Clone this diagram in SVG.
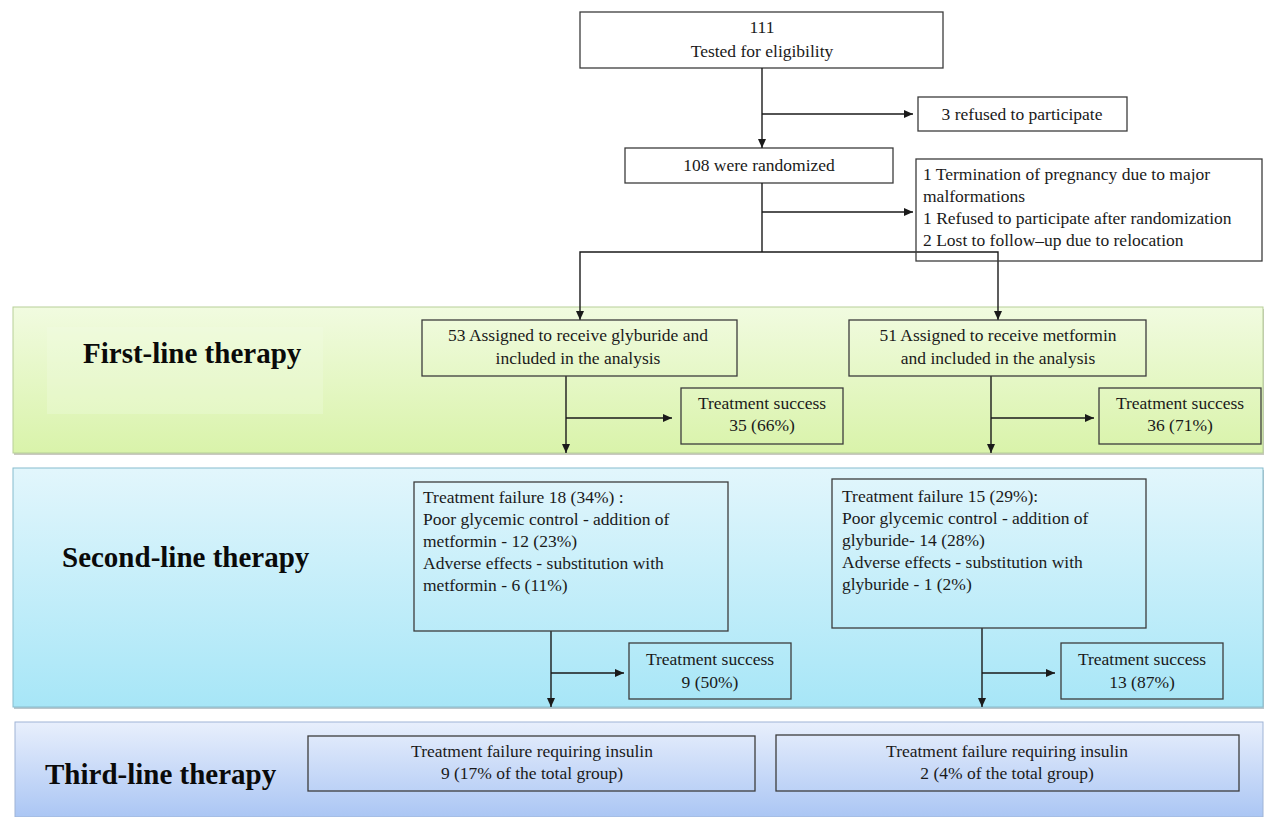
<svg xmlns="http://www.w3.org/2000/svg" width="1264" height="817" viewBox="0 0 1264 817">
<style>
.box{fill:none;stroke:#3c3c3c;stroke-width:1.3}
.wbox{fill:#ffffff;stroke:#3c3c3c;stroke-width:1.3}
.t{font-family:"Liberation Serif","Times New Roman",serif;font-size:17.5px;fill:#1a1a1a}
.c{text-anchor:middle}
.h{font-family:"Liberation Serif","Times New Roman",serif;font-size:29px;font-weight:bold;fill:#0a0a0a}
.ln{fill:none;stroke:#1a1a1a;stroke-width:1.4}
.arr{marker-end:url(#ah)}
</style>
<defs>
<marker id="ah" markerWidth="9" markerHeight="8" refX="9" refY="4" orient="auto" markerUnits="userSpaceOnUse">
<path d="M0,0 L9,4 L0,8 z" fill="#1a1a1a"/>
</marker>
<linearGradient id="g1" x1="0" y1="0" x2="0" y2="1">
<stop offset="0" stop-color="#f1fbe0"/>
<stop offset="1" stop-color="#d9f3aa"/>
</linearGradient>
<linearGradient id="g2" x1="0" y1="0" x2="0" y2="1">
<stop offset="0" stop-color="#e2f6fc"/>
<stop offset="1" stop-color="#a7e6f7"/>
</linearGradient>
<linearGradient id="g3" x1="0" y1="0" x2="0" y2="1">
<stop offset="0" stop-color="#e8effc"/>
<stop offset="1" stop-color="#abc6f4"/>
</linearGradient>
</defs>
<rect width="1264" height="817" fill="#ffffff"/>

<g id="band-first">
<rect x="14" y="309" width="1250" height="146" fill="#c9c9c0"/>
<rect x="13" y="307" width="1250" height="146" fill="url(#g1)" stroke="#b7cf98" stroke-width="1"/>
<rect x="47" y="327" width="276" height="87" fill="#f2fbe4" opacity="0.3"/>
<text class="h" x="83" y="363">First-line therapy</text>
</g>
<g id="band-second">
<rect x="14" y="470" width="1250" height="239" fill="#b9c6cc"/>
<rect x="13" y="468" width="1250" height="239" fill="url(#g2)" stroke="#86bccd" stroke-width="1"/>
<text class="h" x="62" y="567">Second-line therapy</text>
</g>
<g id="band-third">
<rect x="15" y="722" width="1248" height="95" fill="url(#g3)" stroke="#9fb4d6" stroke-width="1"/>
<text class="h" x="45" y="784">Third-line therapy</text>
</g>

<g id="n-tested">
<rect class="wbox" x="580" y="12" width="363" height="56"/>
<text class="t c" x="762" y="33">111</text>
<text class="t c" x="762" y="57">Tested for eligibility</text>
</g>
<g id="n-refused">
<rect class="wbox" x="918" y="97" width="209" height="34"/>
<text class="t c" x="1022" y="120">3 refused to participate</text>
</g>
<g id="n-randomized">
<rect class="wbox" x="625" y="148" width="268" height="35"/>
<text class="t c" x="759" y="171">108 were randomized</text>
</g>

<g id="connectors">
<path class="ln arr" d="M762,68 V148"/>
<path class="ln arr" d="M762,114 H913"/>
<path class="ln" d="M762,183 V252"/>
<path class="ln arr" d="M762,252 H580 V320"/>
<path class="ln arr" d="M762,252 H998 V320"/>
<path class="ln arr" d="M762,212 H913"/>
<path class="ln arr" d="M566,376 V453"/>
<path class="ln arr" d="M566,418 H672"/>
<path class="ln arr" d="M991,376 V453"/>
<path class="ln arr" d="M991,418 H1094"/>
<path class="ln arr" d="M551,631 V707"/>
<path class="ln arr" d="M551,673 H624"/>
<path class="ln arr" d="M982,628 V707"/>
<path class="ln arr" d="M982,673 H1055"/>
</g>

<g id="n-excluded">
<rect class="box" x="916" y="159" width="346" height="102"/>
<text class="t" x="923" y="180">1 Termination of pregnancy due to major</text>
<text class="t" x="923" y="202">malformations</text>
<text class="t" x="923" y="224">1 Refused to participate after randomization</text>
<text class="t" x="923" y="246">2 Lost to follow–up due to relocation</text>
</g>

<g id="n-glyburide">
<rect class="box" x="422" y="320" width="315" height="56"/>
<text class="t c" x="578" y="341">53 Assigned to receive glyburide and</text>
<text class="t c" x="578" y="364">included in the analysis</text>
</g>
<g id="n-glyb-success">
<rect class="box" x="681" y="388" width="162" height="56"/>
<text class="t c" x="762" y="409">Treatment success</text>
<text class="t c" x="762" y="431">35 (66%)</text>
</g>
<g id="n-metformin">
<rect class="box" x="849" y="320" width="297" height="56"/>
<text class="t c" x="998" y="341">51 Assigned to receive metformin</text>
<text class="t c" x="998" y="364">and included in the analysis</text>
</g>
<g id="n-metf-success">
<rect class="box" x="1099" y="388" width="162" height="56"/>
<text class="t c" x="1180" y="409">Treatment success</text>
<text class="t c" x="1180" y="431">36 (71%)</text>
</g>

<g id="n-glyb-failure">
<rect class="box" x="414" y="482" width="314" height="149"/>
<text class="t" x="423" y="503">Treatment failure 18 (34%) :</text>
<text class="t" x="423" y="525">Poor glycemic control - addition of</text>
<text class="t" x="423" y="547">metformin - 12 (23%)</text>
<text class="t" x="423" y="569">Adverse effects -  substitution with</text>
<text class="t" x="423" y="591">metformin - 6 (11%)</text>
</g>
<g id="n-glyb-success2">
<rect class="box" x="629" y="643" width="162" height="56"/>
<text class="t c" x="710" y="665">Treatment success</text>
<text class="t c" x="710" y="688">9 (50%)</text>
</g>
<g id="n-metf-failure">
<rect class="box" x="832" y="479" width="314" height="149"/>
<text class="t" x="842" y="502">Treatment failure 15 (29%):</text>
<text class="t" x="842" y="524">Poor glycemic control - addition of</text>
<text class="t" x="842" y="546">glyburide- 14 (28%)</text>
<text class="t" x="842" y="568">Adverse effects -  substitution with</text>
<text class="t" x="842" y="590">glyburide - 1 (2%)</text>
</g>
<g id="n-metf-success2">
<rect class="box" x="1061" y="643" width="162" height="56"/>
<text class="t c" x="1142" y="665">Treatment success</text>
<text class="t c" x="1142" y="688">13 (87%)</text>
</g>

<g id="n-glyb-insulin">
<rect class="box" x="308" y="736" width="447" height="55"/>
<text class="t c" x="532" y="757">Treatment failure requiring insulin</text>
<text class="t c" x="532" y="779">9 (17% of the total group)</text>
</g>
<g id="n-metf-insulin">
<rect class="box" x="776" y="735" width="463" height="56"/>
<text class="t c" x="1007" y="757">Treatment failure requiring insulin</text>
<text class="t c" x="1007" y="779">2 (4% of the total group)</text>
</g>
</svg>
